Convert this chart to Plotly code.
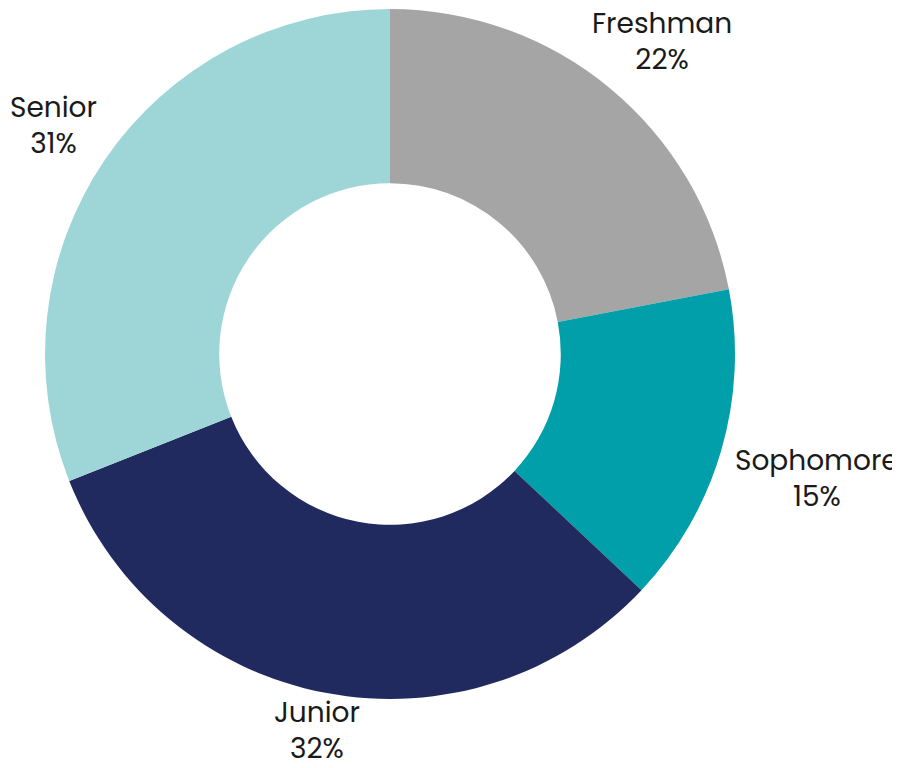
import math
import plotly.graph_objects as go

categories = ["Freshman", "Sophomore", "Junior", "Senior"]
values = [22, 15, 32, 31]
colors = ["#A5A5A5", "#009FA9", "#212A5E", "#9ED6D8"]

W, H = 900, 768
FONT = "Poppins, Lato, Open Sans, sans-serif"
FS = 28
dom_x = [0.0411, 0.8078]
dom_y = [0.1003, 0.9987]
# distance (px) between the ring and each outside label, plus small nudges (px, screen dir)
label_gap = {"Freshman": 3, "Sophomore": 18, "Junior": 8, "Senior": 9}
label_nudge = {"Freshman": (8, 7), "Sophomore": (-1, 0), "Junior": (0, -6), "Senior": (0, 0)}

fig = go.Figure(go.Pie(
    labels=categories,
    values=values,
    hole=0.495,
    sort=False,
    direction="clockwise",
    rotation=0,
    marker=dict(colors=colors, line=dict(width=0)),
    textinfo="none",
    domain=dict(x=dom_x, y=dom_y),
    showlegend=False,
    hoverinfo="label+percent",
))


def text_half_width(s):
    em = 0.0
    for ch in s:
        if ch in "ijlrtfI":
            em += 0.33
        elif ch in "J":
            em += 0.45
        elif ch in "mwMW%":
            em += 0.9
        else:
            em += 0.62
    return em * FS / 2


# outside labels placed along each slice's mid-angle
cx = (dom_x[0] + dom_x[1]) / 2 * W
cy = (dom_y[0] + dom_y[1]) / 2 * H
R = min((dom_x[1] - dom_x[0]) * W, (dom_y[1] - dom_y[0]) * H) / 2
total = sum(values)
cum = 0
annotations = []
for lab, v in zip(categories, values):
    mid = (cum + v / 2) / total * 2 * math.pi
    cum += v
    s, c = math.sin(mid), math.cos(mid)
    pct = f"{round(v / total * 100)}%"
    hw = max(text_half_width(lab), text_half_width(pct))
    hh = 29
    r = R + label_gap[lab] + hw * abs(s) + hh * abs(c)
    ndx, ndy = label_nudge[lab]
    x = cx + r * s + ndx
    y = cy + r * c - ndy
    annotations.append(dict(
        x=x / W, y=y / H, xref="paper", yref="paper",
        xanchor="center", yanchor="middle",
        text=f"{lab}<br>{pct}", showarrow=False, align="center",
        font=dict(family=FONT, size=FS, color="#1a1a1a"),
    ))

fig.update_layout(
    width=W, height=H,
    margin=dict(l=0, r=0, t=0, b=0),
    paper_bgcolor="white",
    plot_bgcolor="white",
    annotations=annotations,
)

fig.write_html("out.html")
